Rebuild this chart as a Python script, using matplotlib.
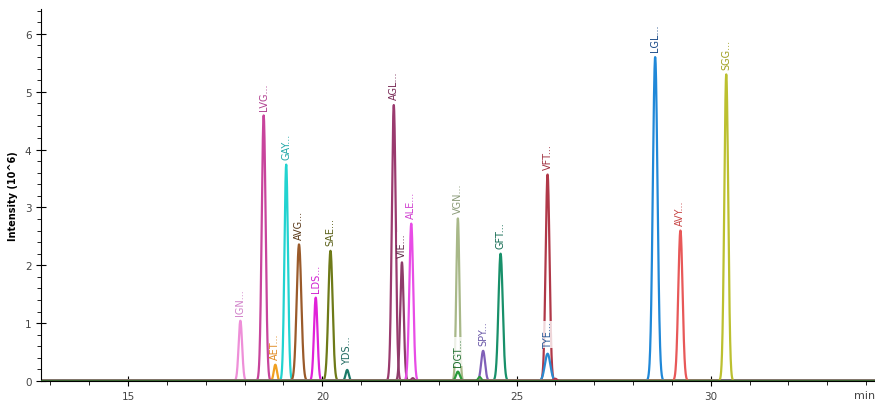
import numpy as np
import matplotlib
matplotlib.use("Agg")
import matplotlib.pyplot as plt
from matplotlib.ticker import MultipleLocator

# peptide peaks: label, retention time (min), height (10^6), peak colour, label colour
labels = ["IGN", "LVG", "AET", "GAY", "AVG", "LDS", "SAE", "YDS", "AGL", "VIE",
          "ALE", "VGN", "DGT", "SPY", "GFT", "VFT", "TYE", "LGL", "AVY", "SGG"]
rt = [17.89, 18.49, 18.79, 19.07, 19.40, 19.83, 20.21, 20.64, 21.84, 22.05,
      22.29, 23.49, 23.49, 24.14, 24.59, 25.80, 25.80, 28.57, 29.22, 30.40]
height = [1.04, 4.59, 0.28, 3.74, 2.36, 1.44, 2.25, 0.19, 4.77, 2.05,
          2.72, 2.81, 0.16, 0.52, 2.20, 3.57, 0.47, 5.60, 2.60, 5.30]
width = [0.045, 0.05, 0.04, 0.045, 0.06, 0.045, 0.055, 0.04, 0.05, 0.045,
         0.05, 0.04, 0.05, 0.05, 0.055, 0.05, 0.07, 0.06, 0.055, 0.05]
colors = ["#ee8fd8", "#c8449c", "#f0a020", "#22d3d0", "#9a5a2a", "#e022d8",
          "#6e7a18", "#1a7a68", "#9a3a6e", "#8e3c6a", "#e84ce6", "#a8b888",
          "#2a9a3a", "#8060b8", "#18906a", "#b03848", "#2a8ad0", "#2088d8",
          "#e85858", "#bcc030"]
label_colors = ["#d080c8", "#b04090", "#e08a20", "#20a8a8", "#5a3818", "#d020d0",
                "#5a6018", "#206a60", "#7a2c58", "#602a48", "#d040d0", "#8a9a78",
                "#207030", "#6a58a8", "#106a50", "#a03040", "#2a5a98", "#1a4a88",
                "#c84848", "#a0a020"]

# small unlabelled bumps from neighbouring traces
minor_rt = [22.33, 24.05, 26.00]
minor_height = [0.05, 0.07, 0.04]
minor_colors = ["#8e3c6a", "#2a9a3a", "#b03848"]

x_min, x_max = 12.76, 34.23

fig = plt.figure(figsize=(8.75, 4.02), dpi=100)
ax = fig.add_axes([0.047, 0.05, 0.953, 0.925])

t = np.linspace(x_min, x_max, 6000)
for i in range(len(labels)):
    y = height[i] * np.exp(-0.5 * ((t - rt[i]) / width[i]) ** 2)
    ax.plot(t, y, color=colors[i], lw=1.6, zorder=2)
    ax.text(rt[i], height[i] + 0.1, labels[i] + "...", rotation=90,
            ha="center", va="bottom", fontsize=7, color=label_colors[i], zorder=3,
            bbox=dict(facecolor="white", edgecolor="none", alpha=0.8, pad=0.3))

for i in range(len(minor_rt)):
    y = minor_height[i] * np.exp(-0.5 * ((t - minor_rt[i]) / 0.04) ** 2)
    ax.plot(t, y, color=minor_colors[i], lw=1.4, zorder=2)

# baseline trace
ax.plot([x_min, x_max], [0, 0], color="#2e6b2e", lw=2, zorder=4)

ax.set_xlim(x_min, x_max)
ax.set_ylim(0, 6.43)
ax.xaxis.set_major_locator(MultipleLocator(5))
ax.xaxis.set_minor_locator(MultipleLocator(1))
ax.yaxis.set_major_locator(MultipleLocator(1))
ax.yaxis.set_minor_locator(MultipleLocator(0.2))
ax.tick_params(axis="both", which="major", direction="inout", length=7,
               labelsize=7.5, labelcolor="#444444")
ax.tick_params(axis="both", which="minor", direction="out", length=3)
ax.spines["top"].set_visible(False)
ax.spines["right"].set_visible(False)

ax.set_ylabel("Intensity (10^6)", fontsize=7, fontweight="bold", labelpad=5)
ax.text(1.0, -0.038, "min", transform=ax.transAxes, ha="right", va="center",
        fontsize=8, color="#444444")

plt.savefig("out.png", dpi=100)
